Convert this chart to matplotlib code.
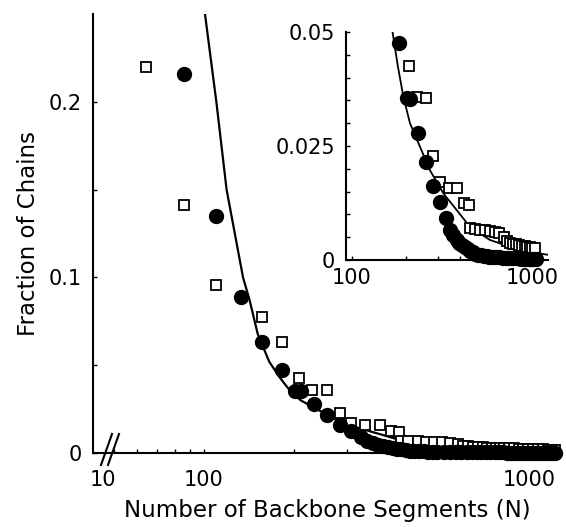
import matplotlib
matplotlib.use("Agg")
import matplotlib.pyplot as plt
from matplotlib.ticker import FixedLocator, FixedFormatter, NullFormatter
from matplotlib.lines import Line2D
import matplotlib.transforms as mtransforms

# filled circles
circ_n = [86, 110, 133, 156, 182, 201, 210, 233, 257, 283, 308, 333, 350, 365,
          381, 395, 410, 425, 440, 455, 470, 485, 500, 520, 540, 560, 580, 600,
          630, 660, 690, 720, 750, 780, 810, 840, 870, 900, 930, 960, 990, 1020,
          1050, 1080, 1110, 1140, 1170, 1200, 1240, 1280, 1320, 1360, 1400, 1440,
          1480]
circ_y = [0.216, 0.135, 0.089, 0.063, 0.0475, 0.0355, 0.0352, 0.0279, 0.0214,
          0.0162, 0.0128, 0.0092, 0.0066, 0.0055, 0.0044, 0.0038, 0.0033, 0.0028,
          0.0024, 0.0020, 0.0017, 0.0014, 0.0012, 0.0010, 0.0009, 0.0008, 0.0007,
          0.0007, 0.0006, 0.0006, 0.0005, 0.0005, 0.0005, 0.0004, 0.0004, 0.0004,
          0.0003, 0.0003, 0.0003, 0.0003, 0.0003, 0.0002, 0.0002, 0.0002, 0.0002,
          0.0002, 0.0002, 0.0001, 0.0001, 0.0001, 0.0001, 0.0001, 0.0001, 0.0001,
          0.0001]

# open squares
sq_n = [64, 86, 110, 156, 182, 207, 229, 257, 283, 308, 345, 385, 420, 445, 455,
        480, 515, 550, 585, 620, 660, 700, 730, 760, 790, 820, 850, 880, 910, 940,
        970, 1000, 1040, 1080, 1120, 1160, 1200, 1250, 1300, 1350, 1400, 1450,
        1480]
sq_y = [0.220, 0.141, 0.0955, 0.0773, 0.063, 0.0425, 0.0357, 0.0356, 0.0227,
        0.0172, 0.0158, 0.0157, 0.0126, 0.0121, 0.0071, 0.0068, 0.0066, 0.0065,
        0.0064, 0.0061, 0.0059, 0.0050, 0.0042, 0.0038, 0.0036, 0.0034, 0.0032,
        0.0031, 0.0030, 0.0029, 0.0028, 0.0027, 0.0026, 0.0026, 0.0025, 0.0024,
        0.0023, 0.0022, 0.0021, 0.0020, 0.0019, 0.0018, 0.0018]

# theory curve
line_n = [97, 101, 110, 119, 135, 142, 151, 165, 180, 193, 210, 239, 271, 322,
          381, 452, 584, 754, 976, 1200, 1480]
line_y = [0.28, 0.249, 0.200, 0.150, 0.100, 0.087, 0.068, 0.052, 0.0424, 0.0358,
          0.030, 0.0248, 0.0197, 0.0146, 0.011, 0.0073, 0.0044, 0.0029, 0.0018,
          0.0012, 0.0008]

W, H = 566, 527
fig = plt.figure(figsize=(W / 100, H / 100), dpi=100)


def fx(px):
    return px / W


def fy(py):
    return 1 - py / H


def keep(xs, ys, nmax):
    pts = [(x, y) for x, y in zip(xs, ys) if x <= nmax]
    return [p[0] for p in pts], [p[1] for p in pts]


def draw_data(ax, lw, nmax):
    ax.plot(line_n, line_y, color='black', lw=lw, zorder=2)
    sx, sy = keep(sq_n, sq_y, nmax)
    ax.plot(sx, sy, 's', mfc='white', mec='black', ms=7, mew=1.3, zorder=3,
            clip_on=False)
    cx, cy = keep(circ_n, circ_y, nmax)
    ax.plot(cx, cy, 'o', color='black', ms=10, zorder=4, clip_on=False)


def style(ax):
    for s in ['top', 'right']:
        ax.spines[s].set_visible(False)
    for s in ['left', 'bottom']:
        ax.spines[s].set_linewidth(1.5)
    ax.tick_params(which='both', direction='in', length=3, width=1, labelsize=15)
    ax.tick_params(axis='y', pad=8)


# main axes
ax = fig.add_axes([fx(93), fy(453), fx(562) - fx(93), fy(14) - fy(453)])
draw_data(ax, 1.6, 1500)
ax.set_xscale('log')
ax.set_xlim(42.7, 1560)
ax.set_ylim(0, 0.25)
style(ax)
ax.tick_params(axis='x', pad=12)
ax.xaxis.set_major_locator(FixedLocator([46.1, 100, 1000]))
ax.xaxis.set_major_formatter(FixedFormatter(['10', '100', '1000']))
ax.xaxis.set_minor_locator(FixedLocator([50, 60, 70, 80, 90, 200, 300, 400, 500,
                                         600, 700, 800, 900]))
ax.xaxis.set_minor_formatter(NullFormatter())
ax.yaxis.set_major_locator(FixedLocator([0, 0.1, 0.2]))
ax.yaxis.set_major_formatter(FixedFormatter(['0', '0.1', '0.2']))
ax.yaxis.set_minor_locator(FixedLocator([0.05, 0.15]))
ax.set_xlabel('Number of Backbone Segments (N)', fontsize=16.5, labelpad=7)
ax.set_ylabel('Fraction of Chains', fontsize=16.5, labelpad=6)

ticks = ax.xaxis.get_major_ticks()
ticks[0].tick1line.set_visible(False)
# the 1000 label sits right of its tick in the original
off = mtransforms.ScaledTranslation(0.25, 0, fig.dpi_scale_trans)
ticks[2].label1.set_transform(ticks[2].label1.get_transform() + off)

# axis break marks
for x0 in (101, 108):
    fig.add_artist(Line2D([fx(x0), fx(x0 + 11)], [fy(465), fy(434)],
                          color='black', lw=1.5, transform=fig.transFigure))

# inset
ins = fig.add_axes([fx(346), fy(260), fx(548) - fx(346), fy(32) - fy(260)])
draw_data(ins, 1.3, 1060)
ins.set_xscale('log')
ins.set_xlim(92.6, 1229)
ins.set_ylim(0, 0.05)
style(ins)
ins.tick_params(axis='x', pad=6)
ins.xaxis.set_major_locator(FixedLocator([100, 1000]))
ins.xaxis.set_major_formatter(FixedFormatter(['100', '1000']))
ins.xaxis.set_minor_locator(FixedLocator([200, 300, 400, 500, 600, 700, 800, 900]))
ins.xaxis.set_minor_formatter(NullFormatter())
ins.yaxis.set_major_locator(FixedLocator([0, 0.025, 0.05]))
ins.yaxis.set_major_formatter(FixedFormatter(['0', '0.025', '0.05']))
ins.yaxis.set_minor_locator(FixedLocator([0.005 * i for i in range(1, 10)]))
ins.yaxis.set_minor_formatter(NullFormatter())

fig.savefig('out.png', dpi=100)
